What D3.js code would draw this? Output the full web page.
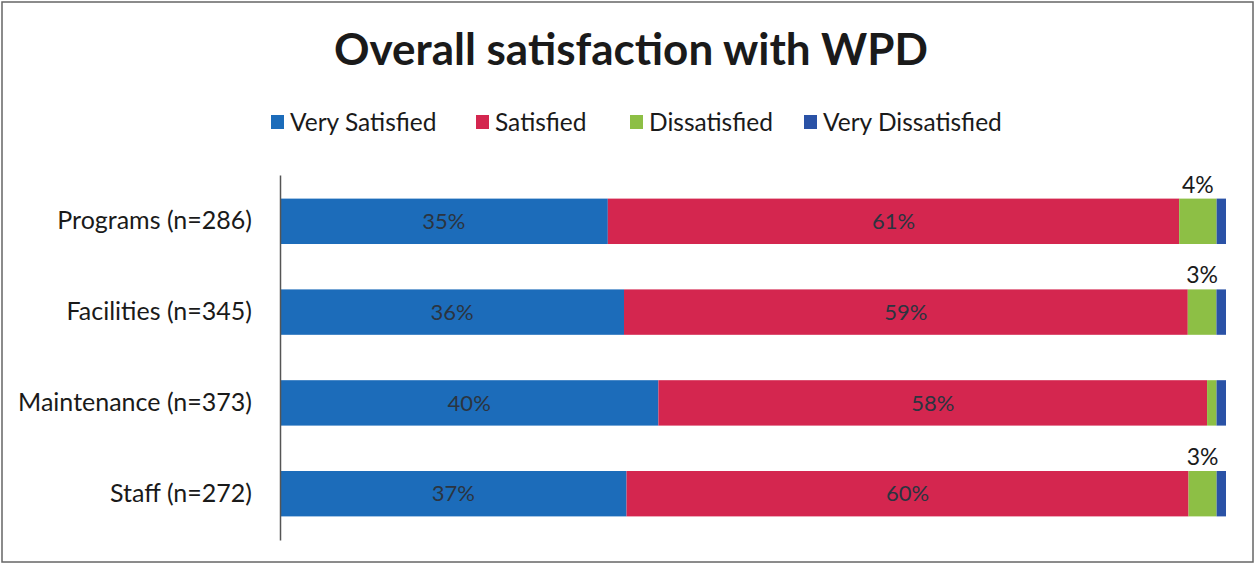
<!DOCTYPE html>
<html>
<head>
<meta charset="utf-8">
<script src="https://cdn.jsdelivr.net/npm/d3@7"></script>
<style>
  body { margin: 0; background: #fff; }
  svg { display: block; font-family: Lato, "Open Sans", sans-serif; }
</style>
</head>
<body>
<div id="chart"></div>
<script>
// categories (top to bottom)
var categories = ['Programs (n=286)', 'Facilities (n=345)', 'Maintenance (n=373)', 'Staff (n=272)'];
var seriesNames = ['Very Satisfied', 'Satisfied', 'Dissatisfied', 'Very Dissatisfied'];

// percentages per series, same order as categories
var verySatisfied = [35, 36, 40, 37];
var satisfied = [61, 59, 58, 60];
var dissatisfied = [4, 3, 1, 3];
var veryDissatisfied = [1, 1, 1, 1];

// which dissatisfied values get a label above the bar
var showDissatisfiedLabel = [true, true, false, true];

var colors = ['#1c6cba', '#d4264f', '#8dbf45', '#2a52a6'];

var width = 1255, height = 564;
var margin = {top: 175, right: 29, bottom: 24, left: 280};

var rows = categories.map(function (c, i) {
    return {
        category: c,
        'Very Satisfied': verySatisfied[i],
        'Satisfied': satisfied[i],
        'Dissatisfied': dissatisfied[i],
        'Very Dissatisfied': veryDissatisfied[i]
    };
});

var stacked = d3.stack()
    .keys(seriesNames)
    .offset(d3.stackOffsetExpand)(rows);

var svg = d3.select('#chart').append('svg')
    .attr('width', width)
    .attr('height', height);

// scanned frame
svg.append('rect')
    .attr('x', 2).attr('y', 2)
    .attr('width', width - 4).attr('height', height - 4)
    .attr('fill', 'none')
    .attr('stroke', '#666')
    .attr('stroke-width', 1.5);

var x = d3.scaleLinear()
    .domain([0, 1])
    .range([margin.left, width - margin.right]);

var y = d3.scaleBand()
    .domain(categories)
    .range([margin.top, height - margin.bottom])
    .paddingInner(0.5)
    .paddingOuter(0.26);

// title
svg.append('text')
    .attr('x', 631)
    .attr('y', 65)
    .attr('text-anchor', 'middle')
    .style('font-size', '44px')
    .style('font-weight', 'bold')
    .attr('fill', '#1a1a1a')
    .text('Overall satisfaction with WPD');

// legend
var legendX = [271, 476, 630, 804];
var legend = svg.append('g');
seriesNames.forEach(function (name, i) {
    var g = legend.append('g').attr('transform', 'translate(' + legendX[i] + ',122)');
    g.append('rect')
        .attr('x', 0).attr('y', -7)
        .attr('width', 13).attr('height', 14)
        .attr('fill', colors[i]);
    g.append('text')
        .attr('x', 19)
        .attr('y', 0)
        .attr('dy', '0.35em')
        .style('font-size', '24.5px')
        .attr('fill', '#1a1a1a')
        .text(name);
});

// bars
var layer = svg.append('g')
    .selectAll('g')
    .data(stacked)
    .join('g')
    .attr('fill', function (d, i) { return colors[i]; });

layer.selectAll('rect')
    .data(function (d) { return d; })
    .join('rect')
    .attr('x', function (d) { return x(d[0]); })
    .attr('y', function (d) { return y(d.data.category); })
    .attr('width', function (d) { return x(d[1]) - x(d[0]); })
    .attr('height', y.bandwidth());

// labels inside the first two series
var inside = svg.append('g');
[0, 1].forEach(function (s) {
    inside.selectAll('text.s' + s)
        .data(stacked[s])
        .join('text')
        .attr('class', 's' + s)
        .attr('x', function (d) { return (x(d[0]) + x(d[1])) / 2; })
        .attr('y', function (d) { return y(d.data.category) + y.bandwidth() / 2; })
        .attr('dy', '0.35em')
        .attr('text-anchor', 'middle')
        .style('font-size', '22px')
        .attr('fill', '#2b3440')
        .text(function (d, i) { return (s === 0 ? verySatisfied[i] : satisfied[i]) + '%'; });
});

// dissatisfied labels above the bar
svg.append('g')
    .selectAll('text')
    .data(stacked[2].filter(function (d, i) { return showDissatisfiedLabel[i]; }))
    .join('text')
    .attr('x', function (d) { return (x(d[0]) + x(d[1])) / 2; })
    .attr('y', function (d) { return y(d.data.category) - 6; })
    .attr('text-anchor', 'middle')
    .style('font-size', '23px')
    .attr('fill', '#1a1a1a')
    .text(function (d) { return d.data['Dissatisfied'] + '%'; });

// category axis
var axis = svg.append('g')
    .attr('transform', 'translate(' + margin.left + ',0)')
    .call(d3.axisLeft(y).tickSize(0).tickPadding(28));
axis.select('.domain').attr('stroke', '#555').attr('stroke-width', 1.5);
axis.selectAll('text')
    .style('font-size', '25px')
    .style('font-family', 'Lato, "Open Sans", sans-serif')
    .attr('fill', '#1a1a1a');
</script>
</body>
</html>
